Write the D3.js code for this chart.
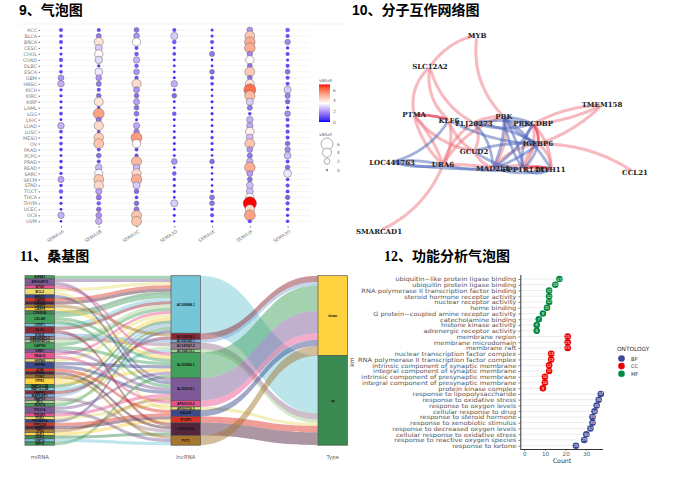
<!DOCTYPE html>
<html>
<head>
<meta charset="utf-8">
<script src="https://cdn.jsdelivr.net/npm/d3@7"></script>
<style>
  html, body { margin: 0; padding: 0; background: #fff; }
  svg { display: block; }
</style>
</head>
<body>
<div id="mydiv"></div>
<script>
// ---- panel 9, bubble chart
var cancers = ["ACC","BLCA","BRCA","CESC","CHOL","COAD","DLBC","ESCA","GBM","HNSC","KICH","KIRC","KIRP","LAML","LGG","LIHC","LUAD","LUSC","MESO","OV","PAAD","PCPG","PRAD","READ","SARC","SKCM","STAD","TGCT","THCA","THYM","UCEC","UCS","UVM"];
var genes = ["SEMA3A","SEMA3B","SEMA3C","SEMA3D","SEMA3E","SEMA3F","SEMA3G"];
// one row per cancer, same order as genes
var bubbleValues = [
  [1,1,1.5,1,.5,2,1.2],
  [.8,1.6,2,2.8,.5,4.5,1],
  [1,4,3.5,1.2,1,5,1.8],
  [.4,2.8,1,.4,.4,5,.6],
  [.5,3.6,1.2,.8,1.6,1.8,1],
  [1,3,2.4,.4,.3,3.6,.5],
  [.6,.6,1.2,.4,.3,1.5,1],
  [.8,3.2,2,.4,1.4,4.5,1.5],
  [2,2,1,.5,1,1.5,1],
  [2.4,1.6,4.2,2.4,.8,4,1],
  [.6,1,2,.6,.3,6,2.8],
  [.6,1.4,1.4,1.4,.3,4.8,1.7],
  [.5,4,2.2,.4,.5,2.8,1.3],
  [.4,.6,1.4,.3,.3,1.6,.6],
  [.8,5.2,1.5,1.2,.6,.7,1.9],
  [.4,1.6,.5,.4,.3,2.4,1],
  [2.4,4.2,2.3,.3,.4,2.3,1],
  [.8,.7,1.7,.4,.4,3.8,1],
  [.6,4.4,5.3,.5,.6,2.6,1],
  [.8,4.6,3.6,.5,.5,4.6,1.4],
  [.8,.9,.9,.5,.6,2,1.8],
  [.4,1.4,1,.4,.3,1.6,2.6],
  [.7,1,4.8,2,1.4,2.4,1],
  [.7,2.5,2.5,.3,.3,5,1.4],
  [.6,3.4,4.2,1.2,.3,2.1,3.2],
  [2.2,4.6,5,.6,.3,1.5,.8],
  [.7,4.2,2.8,.5,.3,2.6,1],
  [1.2,2.2,1.4,.5,.6,2.6,.9],
  [.5,1.6,.8,.3,1.5,3.4,1.3],
  [.6,1.2,1.4,2.8,1.5,7,1],
  [.4,1.4,1.6,.3,.8,4.2,.8],
  [2.4,2,4.6,.5,1,5.2,.6],
  [.3,2.4,4.6,.2,.4,1,.7]
];
var colorTicks = [0,2,4,6];
var sizeTicks = [6,4,2,0];

// ---- panel 10, network (layout units 0-100)
var nodeNames = ["MYB","SLC12A2","TMEM158","PTMA","KLF6","FLJ20273","PBK","PRKCDBP","IGFBP6","GCUD2","LOC441763","UBA6","MAD2L1","PPP1R14A","MYH11","CCL21","SMARCAD1"];
var nodeX = [38.3,19.9,87.1,13.7,27.3,37.1,48.8,60.2,62.1,37.1,5.1,25,44.5,56.3,67.2,100,0];
var nodeY = [0,16.3,35.7,40.8,43.4,44.9,41.8,45.4,55.6,59.2,64.8,66.3,67.9,68.4,68.4,70.4,100];
// from, to, bend
var pinkEdges = [
  ["MYB","SLC12A2",-.2],["MYB","PBK",-.25],["SLC12A2","PTMA",-.28],["SLC12A2","KLF6",-.28],["SLC12A2","FLJ20273",-.22],
  ["TMEM158","PRKCDBP",-.12],["TMEM158","IGFBP6",.12],["TMEM158","PRKCDBP",.1],["IGFBP6","CCL21",.16],["UBA6","SMARCAD1",.2],
  ["PTMA","UBA6",-.15],["PTMA","UBA6",.1],["PTMA","GCUD2",-.2],["KLF6","UBA6",.2],["KLF6","GCUD2",-.2],
  ["FLJ20273","UBA6",-.2],["PBK","UBA6",-.2],["PBK","MAD2L1",.22],["UBA6","MAD2L1",.06],["GCUD2","MAD2L1",-.2],
  ["FLJ20273","GCUD2",.3],["PRKCDBP","MYH11",.2],["IGFBP6","MYH11",.25],["IGFBP6","PPP1R14A",-.2],["IGFBP6","MAD2L1",-.2],
  ["MAD2L1","MYH11",.1],["FLJ20273","PBK",.15],["PPP1R14A","PRKCDBP",-.2]
];
var darkPinkEdges = [["PTMA","KLF6",.1],["PRKCDBP","IGFBP6",.2],["PPP1R14A","MYH11",.15]];
var blueEdges = [
  ["LOC441763","KLF6",-.2],["LOC441763","UBA6",.1],["LOC441763","UBA6",-.12],["LOC441763","MAD2L1",-.06],
  ["PBK","PRKCDBP",.1],["PBK","IGFBP6",-.15],["PBK","PPP1R14A",.1],["PBK","PPP1R14A",-.12],["PRKCDBP","FLJ20273",-.1],
  ["KLF6","IGFBP6",-.12],["FLJ20273","IGFBP6",.1],["FLJ20273","MAD2L1",.2],["PRKCDBP","MAD2L1",.12],["PRKCDBP","PPP1R14A",-.2],
  ["IGFBP6","MAD2L1",.1],["IGFBP6","PPP1R14A",.15],["MAD2L1","MYH11",-.15],["PPP1R14A","MYH11",-.3],["GCUD2","IGFBP6",.1],
  ["GCUD2","PPP1R14A",-.15],["UBA6","PPP1R14A",-.08],["PBK","MAD2L1",.12],["PBK","MYH11",.1],["FLJ20273","PRKCDBP",-.15]
];

// ---- panel 11, alluvial
var miNames = ["AHSA1","ARHGAP11","ATG5","BCL2","BIRC5","CAPN1","CASC5","CASP3","CASP8","CDKN2A","CELAR","CFDP1","DLG1","EGLN","GABARAPL1","GABARAPL2","GAPDH","GRB7","HDAC6","HSPA8","HSPB8","IL1B","ITGA6","ITGB1","ITPR1","MAP1LC3A","MAP1LC3B","MAPK1","MAPK8IP1","MAPK9","MYC","NLRC4","PIK3CA","PIK3R1","PDK1","PRKAR1A","PPP2CA","SIRT1","TP53","ULK1","ULK2","USP10","WIPI2"];
var lncNames = ["AC008948.1","AC010768.2","AC092142.1","AC147067.2","AC104115.1","AL353804.1","AL355614.1","AP001033.2","AP003118.2","HAGLR","IPO5P1","LINC01614","PVT1"];
var typeNames = ["down","up"];
var lncType = ["up","down","down","up","up","down","down","down","up","down","up","up","down"];
// which miRNA rows feed each lncRNA, same order as lncNames
var lncMembers = [
  ["AHSA1","ARHGAP11","BCL2","CAPN1","CASC5","CDKN2A","CELAR","CFDP1","DLG1","GABARAPL2","GAPDH","HDAC6","HSPA8","ITPR1","MAP1LC3A","MAPK8IP1","NLRC4","PRKAR1A"],
  ["CASP3","MAPK1"],
  ["EGLN"],
  ["GABARAPL1","MYC"],
  ["MAP1LC3B"],
  ["ATG5","CASP8","CELAR","GAPDH","HSPB8","ITPR1","PIK3CA","WIPI2"],
  ["ARHGAP11","BIRC5","CELAR","GRB7","HSPB8","PIK3R1","TP53"],
  ["HDAC6","PDK1"],
  ["BCL2"],
  ["IL1B","PPP2CA"],
  ["SIRT1","ULK1"],
  ["DLG1","ITGA6","MAPK9","ULK2"],
  ["ITGB1","PIK3CA","USP10"]
];

// ---- panel 12, lollipop
var goTerms = ["ubiquitin−like protein ligase binding","ubiquitin protein ligase binding","RNA polymerase II transcription factor binding","steroid hormone receptor activity","nuclear receptor activity","heme binding","G protein−coupled amine receptor activity","catecholamine binding","histone kinase activity","adrenergic receptor activity",
  "membrane region","membrane microdomain","membrane raft","nuclear transcription factor complex","RNA polymerase II transcription factor complex","intrinsic component of synaptic membrane","integral component of synaptic membrane","intrinsic component of presynaptic membrane","integral component of presynaptic membrane","protein kinase complex",
  "response to lipopolysaccharide","response to oxidative stress","response to oxygen levels","cellular response to drug","response to steroid hormone","response to xenobiotic stimulus","response to decreased oxygen levels","cellular response to oxidative stress","response to reactive oxygen species","response to ketone"];
var goCounts = [17,15,12,12,12,11,9,7,6,6, 21,21,21,13,13,12,12,10,10,9, 37,36,35,34,33,33,32,30,29,25];
var goOntology = ["MF","MF","MF","MF","MF","MF","MF","MF","MF","MF","CC","CC","CC","CC","CC","CC","CC","CC","CC","CC","BP","BP","BP","BP","BP","BP","BP","BP","BP","BP"];
var ontologies = ["BP","CC","MF"];
var countTicks = [0,10,20,30];

var svg = d3.select("#mydiv").append("svg")
  .attr("width", 695)
  .attr("height", 497)
  .style("background-color", "white");

var sans = "'Liberation Sans', Arial, sans-serif";
var wide = "'DejaVu Sans', sans-serif";

function title(x, y, t, numFont) {
  svg.append("text")
    .attr("x", x).attr("y", y)
    .attr("font-family", numFont + ", 'Noto Sans CJK SC'")
    .attr("font-weight", "bold")
    .attr("font-size", 14)
    .attr("fill", "#000")
    .text(t);
}
title(19, 15, "9、气泡图", "'Liberation Sans'");
title(352, 15, "10、分子互作网络图", "'Liberation Sans'");
title(20, 261, "11、桑基图", "'Liberation Serif'");
title(384, 261, "12、功能分析气泡图", "'Liberation Serif'");

drawBubble();
drawNetwork();
drawAlluvial();
drawLollipop();

function drawBubble() {
  var g = svg.append("g");
  var x = d3.scalePoint().domain(genes).range([61, 287.6]);
  var y = d3.scalePoint().domain(cancers).range([30, 221.3]);
  var color = d3.scaleLinear().domain([0, 1, 3.5, 7]).range(["#0000ff", "#6a4ff0", "#ffffff", "#ff0000"]).interpolate(d3.interpolateLab);
  var size = d3.scalePow().exponent(.8).domain([0, 7]).range([.8, 6.6]);

  g.append("line").attr("x1", 19).attr("x2", 345).attr("y1", 24).attr("y2", 24).attr("stroke", "#f2f2f2");

  g.selectAll(".grid").data(cancers).enter().append("line")
    .attr("x1", 40).attr("x2", 310)
    .attr("y1", function(d) { return y(d); })
    .attr("y2", function(d) { return y(d); })
    .attr("stroke", "#efefef").attr("stroke-width", .6);

  var ax = g.append("g").attr("transform", "translate(40,0)")
    .call(d3.axisLeft(y).tickSize(1.5).tickPadding(1.5));
  ax.select(".domain").remove();
  ax.selectAll("line").attr("stroke", "#777");
  ax.selectAll("text").attr("font-family", wide).attr("font-size", 4.8).attr("fill", "#777");

  var bx = g.append("g").attr("transform", "translate(0,226)")
    .call(d3.axisBottom(x).tickSize(1.5).tickPadding(1));
  bx.select(".domain").remove();
  bx.selectAll("line").attr("stroke", "#777");
  bx.selectAll("text").attr("font-family", wide).attr("font-size", 4.6)
    .attr("fill", "#777")
    .attr("text-anchor", "end")
    .attr("transform", "rotate(-33) translate(-1,1)");

  cancers.forEach(function(c, i) {
    genes.forEach(function(s, j) {
      var v = bubbleValues[i][j];
      g.append("circle")
        .attr("cx", x(s)).attr("cy", y(c))
        .attr("r", size(v))
        .attr("fill", color(v))
        .attr("stroke", v > 1.2 ? "#666" : "none")
        .attr("stroke-width", .5);
    });
  });

  // legends
  var lab = function(xx, yy, t, fs) {
    g.append("text").attr("x", xx).attr("y", yy).attr("font-family", wide)
      .attr("font-size", fs).attr("fill", "#666").text(t);
  };
  lab(319, 81.5, "value", 4.8);
  var yc = d3.scaleLinear().domain([0, 7]).range([122, 84.5]);
  var grad = svg.append("defs").append("linearGradient").attr("id", "valGrad")
    .attr("x1", 0).attr("y1", 1).attr("x2", 0).attr("y2", 0);
  d3.range(0, 7.01, .5).forEach(function(v) {
    grad.append("stop").attr("offset", v / 7).attr("stop-color", color(v));
  });
  g.append("rect").attr("x", 319).attr("y", yc(7)).attr("width", 11).attr("height", yc(0) - yc(7)).attr("fill", "url(#valGrad)");
  colorTicks.forEach(function(v) {
    g.append("text").attr("x", 333).attr("y", yc(v) + 1.8).attr("font-family", wide)
      .attr("font-size", 4.4).attr("fill", "#666").text(v);
  });
  lab(319, 136, "value", 4.8);
  var ys = d3.scalePoint().domain(sizeTicks).range([144, 170]);
  sizeTicks.forEach(function(v) {
    g.append("circle").attr("cx", 327).attr("cy", ys(v)).attr("r", size(v))
      .attr("fill", v == 0 ? "#444" : "#fff").attr("stroke", "#777").attr("stroke-width", .6);
    g.append("text").attr("x", 337).attr("y", ys(v) + 1.8).attr("font-family", wide)
      .attr("font-size", 4.4).attr("fill", "#666").text(v);
  });
}

function drawNetwork() {
  var g = svg.append("g");
  var x = d3.scaleLinear().domain([0, 100]).range([379, 635]);
  var y = d3.scaleLinear().domain([0, 100]).range([35, 231]);
  var line = d3.line().curve(d3.curveBasis);

  function edge(e, color, op, w) {
    var a = nodeNames.indexOf(e[0]), b = nodeNames.indexOf(e[1]);
    var x0 = x(nodeX[a]), y0 = y(nodeY[a]), x1 = x(nodeX[b]), y1 = y(nodeY[b]);
    var cx = (x0 + x1) / 2 + e[2] * (y1 - y0);
    var cy = (y0 + y1) / 2 - e[2] * (x1 - x0);
    // stop the quadratic curve short of the labels
    var pts = d3.range(.05, .96, .05).map(function(t) {
      var u = 1 - t;
      return [u * u * x0 + 2 * u * t * cx + t * t * x1, u * u * y0 + 2 * u * t * cy + t * t * y1];
    });
    g.append("path").attr("d", line(pts)).attr("fill", "none")
      .attr("stroke", color).attr("stroke-opacity", op).attr("stroke-width", w).attr("stroke-linecap", "round");
  }
  pinkEdges.forEach(function(e) { edge(e, "#ee6f7c", .48, 3.1); });
  blueEdges.forEach(function(e) { edge(e, "#4a64b8", .5, 2.8); });
  darkPinkEdges.forEach(function(e) { edge(e, "#e8384e", .75, 2.8); });

  g.selectAll(".node").data(nodeNames).enter().append("text")
    .attr("x", function(d, i) { return x(nodeX[i]); })
    .attr("y", function(d, i) { return y(nodeY[i]) + 2.5; })
    .attr("text-anchor", "middle")
    .attr("font-family", "'DejaVu Serif', serif")
    .attr("font-weight", "bold")
    .attr("font-size", 7)
    .attr("fill", "#222")
    .text(function(d) { return d; });
}

function drawAlluvial() {
  var g = svg.append("g");
  var gold = "#ffd23f", dkGreen = "#3a8a52", green = "#41a05c", cyan = "#74c6d6", maroon = "#8b2635",
      ltBlue = "#7da7d9", mauve = "#96798f", ltGreen = "#a6d28f", purple = "#7d5a97", pink = "#ea4f8f",
      paleYellow = "#e9dd72", navy = "#3b4a8c", red = "#dd3223", plum = "#54243f", brown = "#a6762e";
  var cycle = [gold, dkGreen, cyan, maroon, ltBlue, mauve, ltGreen, green, purple, pink, paleYellow, navy, red, plum, brown];
  var miColors = [green, purple, pink, paleYellow, navy, red, plum, brown, gold, dkGreen, green]
    .concat(d3.range(32).map(function(i) { return cycle[(i + 2) % 15]; }));
  miColors[miColors.length - 1] = green;
  var lncColors = [cyan, maroon, ltBlue, mauve, ltGreen, green, purple, pink, paleYellow, navy, red, plum, brown];
  var typeColors = [gold, dkGreen];

  var miColor = d3.scaleOrdinal().domain(miNames).range(miColors);
  var lncColor = d3.scaleOrdinal().domain(lncNames).range(lncColors);
  var typeColor = d3.scaleOrdinal().domain(typeNames).range(typeColors);

  var rows = [];
  lncNames.forEach(function(l, i) {
    lncMembers[i].forEach(function(m) { rows.push({ mi: m, lnc: l, type: lncType[i] }); });
  });
  var total = rows.length;
  var y = d3.scaleLinear().domain([0, total]).range([275.7, 445.2]);
  var x = d3.scaleOrdinal().domain(["mi", "lnc", "type"]).range([25, 171, 318]);
  var w = 29.5;

  // stack offset of each stratum
  function stack(names, count) {
    var o = {}, c = 0;
    names.forEach(function(n) { o[n] = c; c += count(n); });
    return o;
  }
  var miCount = d3.rollup(rows, function(v) { return v.length; }, function(d) { return d.mi; });
  var lncCount = d3.rollup(rows, function(v) { return v.length; }, function(d) { return d.lnc; });
  var typeCount = d3.rollup(rows, function(v) { return v.length; }, function(d) { return d.type; });
  var miTop = stack(miNames, function(n) { return miCount.get(n); });
  var lncTop = stack(lncNames, function(n) { return lncCount.get(n); });
  var typeTop = stack(typeNames, function(n) { return typeCount.get(n); });

  // rows sorted by lnc inside a miRNA, by miRNA inside a lnc
  var miUsed = {};
  rows.forEach(function(r) {
    miUsed[r.mi] = miUsed[r.mi] || 0;
    r.y0 = miTop[r.mi] + miUsed[r.mi];
    miUsed[r.mi]++;
  });
  var lncUsed = {};
  rows.slice().sort(function(a, b) { return miNames.indexOf(a.mi) - miNames.indexOf(b.mi); }).forEach(function(r) {
    lncUsed[r.lnc] = lncUsed[r.lnc] || 0;
    r.y1 = lncTop[r.lnc] + lncUsed[r.lnc];
    lncUsed[r.lnc]++;
  });

  function ribbon(xa, xb, ya, yb, h) {
    var p = d3.path(), m = (xa + xb) / 2;
    p.moveTo(xa, y(ya));
    p.bezierCurveTo(m, y(ya), m, y(yb), xb, y(yb));
    p.lineTo(xb, y(yb + h));
    p.bezierCurveTo(m, y(yb + h), m, y(ya + h), xa, y(ya + h));
    p.closePath();
    return p.toString();
  }

  rows.forEach(function(r) {
    g.append("path").attr("d", ribbon(x("mi") + w, x("lnc"), r.y0, r.y1, 1))
      .attr("fill", miColor(r.mi)).attr("fill-opacity", .45);
  });

  var typeUsed = {};
  lncNames.forEach(function(l, i) {
    var t = lncType[i], n = lncCount.get(l);
    typeUsed[t] = typeUsed[t] || 0;
    g.append("path").attr("d", ribbon(x("lnc") + w, x("type"), lncTop[l], typeTop[t] + typeUsed[t], n))
      .attr("fill", lncColor(l)).attr("fill-opacity", .48);
    typeUsed[t] += n;
  });

  function strata(key, names, top, count, color, fs) {
    names.forEach(function(n) {
      g.append("rect").attr("x", x(key)).attr("y", y(top[n]))
        .attr("width", w).attr("height", y(count.get(n)) - y(0))
        .attr("fill", color(n)).attr("stroke", "#555").attr("stroke-width", .7);
      g.append("text").attr("x", x(key) + w / 2).attr("y", y(top[n] + count.get(n) / 2) + fs * .35)
        .attr("text-anchor", "middle").attr("font-family", sans).attr("font-weight", "bold")
        .attr("font-size", fs).attr("fill", "#111").text(n);
    });
  }
  strata("mi", miNames, miTop, miCount, miColor, 3.2);
  strata("lnc", lncNames, lncTop, lncCount, lncColor, 3.2);
  strata("type", typeNames, typeTop, typeCount, typeColor, 3.4);

  [["mi", "miRNA"], ["lnc", "lncRNA"], ["type", "Type"]].forEach(function(d) {
    g.append("text").attr("x", x(d[0]) + w / 2).attr("y", 459).attr("text-anchor", "middle")
      .attr("font-family", wide).attr("font-size", 5.4).attr("fill", "#666").text(d[1]);
  });
  g.append("text").attr("transform", "translate(354,362) rotate(-90)").attr("text-anchor", "middle")
    .attr("font-family", wide).attr("font-size", 6).attr("fill", "#444").text("km");
}

function drawLollipop() {
  var g = svg.append("g");
  var x = d3.scaleLinear().domain([0, 30]).range([524.3, 586.3]);
  var y = d3.scalePoint().domain(goTerms).range([279, 445.7]);
  var color = d3.scaleOrdinal().domain(ontologies).range(["#3b4992", "#ee0000", "#008b45"]);

  goTerms.forEach(function(t, i) {
    g.append("line").attr("x1", x(0) - 4).attr("x2", x(goCounts[i]))
      .attr("y1", y(t)).attr("y2", y(t))
      .attr("stroke", "#ececec").attr("stroke-width", 1);
  });

  var ay = g.append("g").attr("transform", "translate(520.3,0)")
    .call(d3.axisLeft(y).tickSize(2).tickPadding(1.5));
  ay.select(".domain").attr("d", "M0.5,275V449").attr("stroke", "#333");
  ay.selectAll("line").attr("stroke", "#444").attr("stroke-width", .6);
  // reference labels are stretched sideways
  ay.selectAll("text").attr("font-family", wide).attr("font-size", 5.8).attr("fill", "#555")
    .attr("transform", "scale(1.155,1)");

  var ax = g.append("g").attr("transform", "translate(0,449)")
    .call(d3.axisBottom(x).tickValues(countTicks).tickSize(2).tickPadding(1));
  ax.select(".domain").attr("d", "M520.3,0.5H603").attr("stroke", "#333");
  ax.selectAll("line").attr("stroke", "#444").attr("stroke-width", .6);
  ax.selectAll("text").attr("font-family", wide).attr("font-size", 5.6).attr("fill", "#555");

  g.append("text").attr("x", 562).attr("y", 462.5).attr("text-anchor", "middle")
    .attr("font-family", wide).attr("font-size", 6.2).attr("fill", "#333").text("Count");

  goTerms.forEach(function(t, i) {
    g.append("circle").attr("cx", x(goCounts[i])).attr("cy", y(t)).attr("r", 3.3)
      .attr("fill", color(goOntology[i]));
    g.append("text").attr("x", x(goCounts[i])).attr("y", y(t) + 1.5).attr("text-anchor", "middle")
      .attr("font-family", sans).attr("font-size", 4.2).attr("fill", "#fff").text(goCounts[i]);
  });

  g.append("text").attr("x", 617).attr("y", 351).attr("font-family", wide)
    .attr("font-size", 5.8).attr("fill", "#333").text("ONTOLOGY");
  var ly = d3.scalePoint().domain(ontologies).range([358.5, 373.7]);
  ontologies.forEach(function(o) {
    g.append("circle").attr("cx", 621.5).attr("cy", ly(o)).attr("r", 3.3).attr("fill", color(o));
    g.append("text").attr("x", 631).attr("y", ly(o) + 2).attr("font-family", wide)
      .attr("font-size", 5).attr("fill", "#333").text(o);
  });
}
</script>
</body>
</html>
